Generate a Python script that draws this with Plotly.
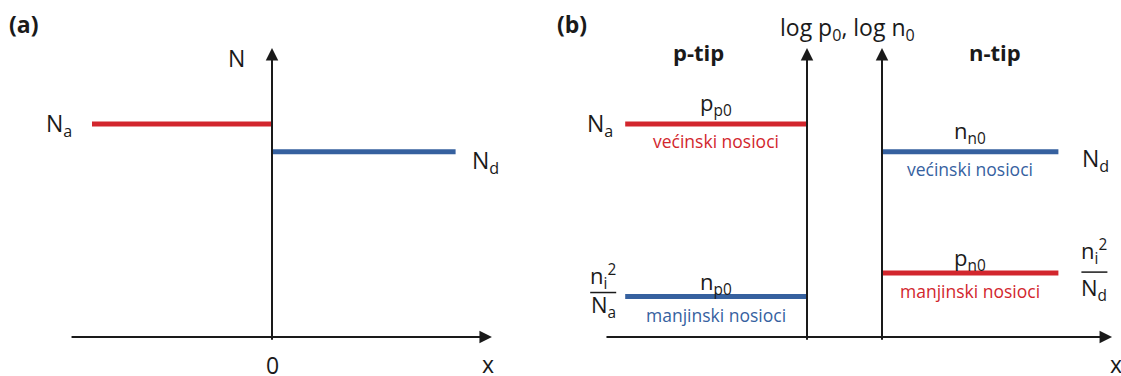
import plotly.graph_objects as go

# ---------------- data (arbitrary units) ----------------
# panel (a): doping concentrations
a_x_start = [-1.0, 0.0]
a_x_end = [0.0, 1.02]
a_levels = [1.0, 0.87]          # N_a (p side), N_d (n side)
# panel (b): equilibrium carrier concentrations
p_x = [-1.01, 0.0]              # p-type extent
n_x = [0.0, 0.98]               # n-type extent
p_levels = [1.0, 0.19]          # p_p0 (majority), n_p0 (minority)
n_levels = [0.87, 0.30]         # n_n0 (majority), p_n0 (minority)
axis_top = 1.357

RED = "#d2262d"
BLUE = "#36619f"
INK = "#1a1a1a"
FONT = "Open Sans"

W, H = 1121, 376
PX, PY = 180.0, 213.0           # pixels per data unit
Y0 = 337.0                      # pixel row of the x axes

fig = go.Figure()

def hline(xs, y, color, xaxis):
    fig.add_trace(go.Scatter(x=xs, y=[y, y], mode="lines", xaxis=xaxis, yaxis="y",
                             line=dict(color=color, width=5), hoverinfo="skip",
                             showlegend=False))

# panel (a)
hline([a_x_start[0], a_x_end[0]], a_levels[0], RED, "x")
hline([a_x_start[1], a_x_end[1]], a_levels[1], BLUE, "x")
# panel (b)
hline(p_x, p_levels[0], RED, "x2")
hline(p_x, p_levels[1], BLUE, "x2")
hline(n_x, n_levels[0], BLUE, "x3")
hline(n_x, n_levels[1], RED, "x3")

ann = []

def arrow(xref, x0, y0, x1, y1):
    ann.append(dict(x=x1, y=y1, ax=x0, ay=y0, xref=xref, yref="y", axref=xref, ayref="y",
                    text="", showarrow=True, arrowhead=2, arrowsize=1.25, arrowwidth=2,
                    arrowcolor=INK))

# axes
arrow("x", 0, -0.02, 0, axis_top)
arrow("x", -1.122, 0, 1.222, 0)
arrow("x2", 0, -0.02, 0, axis_top)
arrow("x3", 0, -0.02, 0, axis_top)
arrow("x3", -1.539, 0, 1.278, 0)

def text(t, px, py, size=23, color=INK, bold=False, xanchor="center"):
    if bold:
        t = "<b>" + t + "</b>"
    ann.append(dict(x=px / W, y=1 - py / H, xref="paper", yref="paper", text=t,
                    showarrow=False, xanchor=xanchor, yanchor="middle",
                    font=dict(family=FONT, size=size, color=color)))

def lvl(t, xref, x, y, xshift=0, yshift=0, size=23, color=INK, xanchor="center"):
    ann.append(dict(x=x, y=y, xref=xref, yref="y", text=t, showarrow=False,
                    xanchor=xanchor, yanchor="middle", xshift=xshift, yshift=yshift,
                    font=dict(family=FONT, size=size, color=color)))

# panel (a) labels
text("(a)", 24, 24, size=23, bold=True)
text("N", 236, 58)
text("0", 272, 365)
text("x", 488, 364)
lvl("N<sub>a</sub>", "x", a_x_start[0], a_levels[0], xshift=-18, yshift=0, xanchor="right")
lvl("N<sub>d</sub>", "x", a_x_end[1], a_levels[1], xshift=14, yshift=-10, xanchor="left")

# panel (b) labels
text("(b)", 572, 24, size=23, bold=True)
text("log p<sub>0</sub>, log n<sub>0</sub>", 778, 28, xanchor="left")
text("p-tip", 698, 52, size=22, bold=True)
text("n-tip", 995, 52, size=22, bold=True)
text("x", 1116, 364)

pc = (p_x[0] + p_x[1]) / 2
nc = (n_x[0] + n_x[1]) / 2
lvl("p<sub>p0</sub>", "x2", pc, p_levels[0], yshift=20, size=22)
lvl("većinski nosioci", "x2", pc, p_levels[0], yshift=-17, size=17.5, color=RED)
lvl("n<sub>p0</sub>", "x2", pc, p_levels[1], yshift=14, size=22)
lvl("manjinski nosioci", "x2", pc, p_levels[1], yshift=-18, size=17.5, color=BLUE)
lvl("n<sub>n0</sub>", "x3", nc, n_levels[0], yshift=20, size=22)
lvl("većinski nosioci", "x3", nc, n_levels[0], yshift=-17, size=17.5, color=BLUE)
lvl("p<sub>n0</sub>", "x3", nc, n_levels[1], yshift=14, size=22)
lvl("manjinski nosioci", "x3", nc, n_levels[1], yshift=-18, size=17.5, color=RED)

lvl("N<sub>a</sub>", "x2", p_x[0], p_levels[0], xshift=-10, yshift=0, xanchor="right")
lvl("N<sub>d</sub>", "x3", n_x[1], n_levels[0], xshift=22, yshift=-8, xanchor="left")

# fractions n_i^2 / N  (numerator shift, bar shift, denominator shift in pixels)
def frac(xref, x, y, xshift, denom, up, barup, down):
    lvl("n<sub>i</sub><sup>2</sup>", xref, x, y, xshift=xshift, yshift=up, size=22)
    lvl("N<sub>%s</sub>" % denom, xref, x, y, xshift=xshift, yshift=down, size=22)
    shapes.append(dict(type="line", xref=xref, yref="y", xsizemode="pixel", ysizemode="pixel",
                       xanchor=x, yanchor=y, x0=xshift - 13, x1=xshift + 13, y0=barup, y1=barup,
                       line=dict(color=INK, width=1.5)))

shapes = []
frac("x2", p_x[0], p_levels[1], -22, "a", 20, 4, -9)
frac("x3", n_x[1], n_levels[1], 36, "d", 22, 1, -16)

hidden = dict(visible=False, fixedrange=True)
fig.update_layout(
    width=W, height=H, margin=dict(l=0, r=0, t=0, b=0),
    paper_bgcolor="white", plot_bgcolor="white", showlegend=False,
    xaxis=dict(domain=[0, 1], range=[-272 / PX, (W - 272) / PX], anchor="y", **hidden),
    xaxis2=dict(domain=[0, 1], range=[-807 / PX, (W - 807) / PX], anchor="y", overlaying="x", **hidden),
    xaxis3=dict(domain=[0, 1], range=[-882 / PX, (W - 882) / PX], anchor="y", overlaying="x", **hidden),
    yaxis=dict(domain=[0, 1], range=[-(H - Y0) / PY, Y0 / PY], **hidden),
    annotations=ann, shapes=shapes,
)

fig.write_html("out.html")
